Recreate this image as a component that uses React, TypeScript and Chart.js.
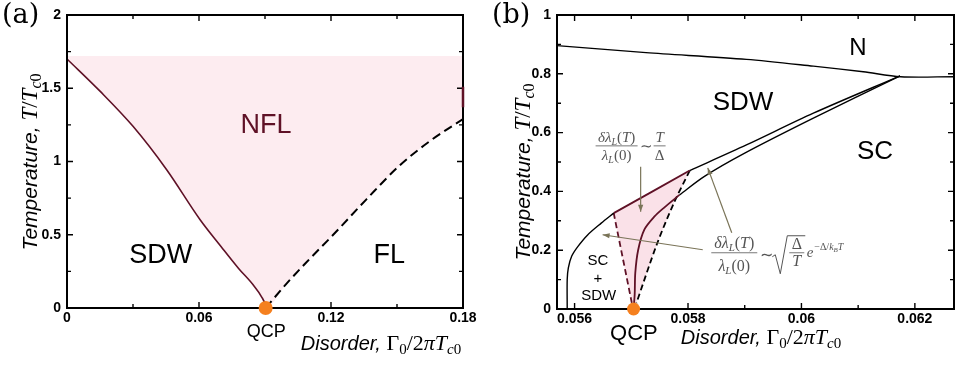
import React, { useEffect, useRef } from "react";
import { Chart, registerables } from "chart.js";
Chart.register(...registerables);

// ---------------- Panel (a) data ----------------
const aXTicks = [0, 0.06, 0.12, 0.18];
const aXTickLabels = ["0", "0.06", "0.12", "0.18"];
const aXMinorTicks = [0.03, 0.09, 0.15];
const aYTicks = [0, 0.5, 1, 1.5, 2];
const aYTickLabels = ["0", "0.5", "1", "1.5", "2"];
const aYMinorTicks = [0.25, 0.75, 1.25, 1.75];

const aSdwBoundaryX = [0, 0.015, 0.03, 0.0453, 0.0605, 0.07, 0.078, 0.0845, 0.0885, 0.09, 0.0903];
const aSdwBoundaryY = [1.7, 1.48, 1.24, 0.944, 0.603, 0.42, 0.27, 0.16, 0.075, 0.025, 0];
const aCrossoverX = [0.0903, 0.1, 0.11, 0.121, 0.136, 0.151, 0.165, 0.18];
const aCrossoverY = [0, 0.17, 0.33, 0.5, 0.74, 0.97, 1.14, 1.29];
const aNflTop = 1.72;
const aEdgeMarkX = [0.18, 0.18];
const aEdgeMarkY = [1.37, 1.51];
const aQcpX = [0.0903];
const aQcpY = [0];

// ---------------- Panel (b) data ----------------
const bXTicks = [0.056, 0.058, 0.06, 0.062];
const bXTickLabels = ["0.056", "0.058", "0.06", "0.062"];
const bXMinorTicks = [0.057, 0.059, 0.061];
const bYTicks = [0, 0.2, 0.4, 0.6, 0.8, 1];
const bYTickLabels = ["0", "0.2", "0.4", "0.6", "0.8", "1"];
const bYMinorTicks = [0.1, 0.3, 0.5, 0.7, 0.9];
const bXRange = [0.05569, 0.06269];

const bNormalX = [0.05569, 0.05726, 0.05903, 0.06021, 0.06109, 0.06175, 0.06269];
const bNormalY = [0.896, 0.872, 0.849, 0.826, 0.807, 0.79, 0.79];
const bScOuterX = [0.05587, 0.05587, 0.05589, 0.05595, 0.05606, 0.05623, 0.05647, 0.05669];
const bScOuterY = [0, 0.1, 0.14, 0.18, 0.213, 0.252, 0.292, 0.326];
const bScMaroonX = [0.05669, 0.05803];
const bScMaroonY = [0.326, 0.471];
const bScUpperX = [0.05803, 0.05903, 0.06021, 0.06174];
const bScUpperY = [0.471, 0.558, 0.666, 0.793];
const bSdwInnerX = [0.05704, 0.05706, 0.05707, 0.05712, 0.05723, 0.05741, 0.05758, 0.05785];
const bSdwInnerY = [0, 0.05, 0.122, 0.2, 0.27, 0.315, 0.345, 0.388];
const bSdwLowerX = [0.05785, 0.05829, 0.059, 0.06021, 0.06174];
const bSdwLowerY = [0.388, 0.451, 0.53, 0.649, 0.793];
const bLeftDashX = [0.05669, 0.05701];
const bLeftDashY = [0.326, 0.02];
const bRightDashX = [0.05803, 0.05775, 0.05745, 0.05709];
const bRightDashY = [0.471, 0.36, 0.22, 0.02];
const bQcpX = [0.05704];
const bQcpY = [0];

// ---------------- styles ----------------
const SANS = '"Liberation Sans", Arial, Helvetica, sans-serif';
const SERIF = '"Liberation Serif", "Times New Roman", serif';
const PANEL_SERIF = '"DejaVu Serif", "Liberation Serif", serif';
const MAROON = "#5f1126";
const ORANGE = "#f5801f";
const PINK_A = "rgb(253,236,240)";
const PINK_B = "rgb(250,225,232)";
const OLIVE = "rgb(122,116,88)";
const FORMULA = "#555555";

const pts = (xs: number[], ys: number[]) => xs.map((x, i) => ({ x, y: ys[i] }));

type Seg = { t: string; f: string; dy?: number };
function segsWidth(ctx: CanvasRenderingContext2D, segs: Seg[]) {
  let w = 0;
  for (const s of segs) {
    ctx.font = s.f;
    w += ctx.measureText(s.t).width;
  }
  return w;
}
function drawSegs(ctx: CanvasRenderingContext2D, segs: Seg[], x: number, y: number, align: "left" | "center" | "right" = "left") {
  const w = segsWidth(ctx, segs);
  let cx = align === "center" ? x - w / 2 : align === "right" ? x - w : x;
  ctx.textAlign = "left";
  ctx.textBaseline = "alphabetic";
  for (const s of segs) {
    ctx.font = s.f;
    ctx.fillText(s.t, cx, y + (s.dy || 0));
    cx += ctx.measureText(s.t).width;
  }
  return w;
}
function arrow(ctx: CanvasRenderingContext2D, x1: number, y1: number, x2: number, y2: number) {
  ctx.beginPath();
  ctx.moveTo(x1, y1);
  ctx.lineTo(x2, y2);
  ctx.stroke();
  const a = Math.atan2(y2 - y1, x2 - x1);
  const L = 7, W = 2.6;
  ctx.beginPath();
  ctx.moveTo(x2, y2);
  ctx.lineTo(x2 - L * Math.cos(a) + W * Math.sin(a), y2 - L * Math.sin(a) - W * Math.cos(a));
  ctx.lineTo(x2 - L * Math.cos(a) - W * Math.sin(a), y2 - L * Math.sin(a) + W * Math.cos(a));
  ctx.closePath();
  ctx.fill();
}

function framePlugin(xMajor: number[], xMinor: number[], yMajor: number[], yMinor: number[]) {
  return {
    id: "frameTicks",
    beforeDatasetDraw(chart: any, args: any) {
      if (chart.data.datasets[args.index].label !== "QCP") return;
      const { ctx, chartArea: a, scales } = chart;
      const x = scales.x, y = scales.y;
      ctx.save();
      ctx.strokeStyle = "#000";
      ctx.lineWidth = 1.4;
      ctx.beginPath();
      const tx = (vals: number[], len: number) => {
        for (const v of vals) {
          const p = x.getPixelForValue(v);
          ctx.moveTo(p, a.bottom);
          ctx.lineTo(p, a.bottom - len);
          ctx.moveTo(p, a.top);
          ctx.lineTo(p, a.top + len);
        }
      };
      const ty = (vals: number[], len: number) => {
        for (const v of vals) {
          const p = y.getPixelForValue(v);
          ctx.moveTo(a.left, p);
          ctx.lineTo(a.left + len, p);
          ctx.moveTo(a.right, p);
          ctx.lineTo(a.right - len, p);
        }
      };
      tx(xMajor, 6);
      tx(xMinor, 4);
      ty(yMajor, 6);
      ty(yMinor, 4);
      ctx.stroke();
      ctx.lineWidth = 2;
      ctx.strokeRect(a.left, a.top, a.right - a.left, a.bottom - a.top);
      ctx.restore();
    },
  };
}

function axisTitles(ctx: CanvasRenderingContext2D, yx: number, yy: number, xx: number, xy: number) {
  ctx.fillStyle = "#000";
  ctx.save();
  ctx.translate(yx, yy);
  ctx.rotate(-Math.PI / 2);
  drawSegs(ctx, [
    { t: "Temperature, ", f: `italic 21px ${SANS}` },
    { t: "T", f: `italic 23px ${SERIF}` },
    { t: "/", f: `23px ${SERIF}` },
    { t: "T", f: `italic 23px ${SERIF}` },
    { t: "c", f: `italic 16px ${SERIF}`, dy: 4 },
    { t: "0", f: `16px ${SERIF}`, dy: 4 },
  ], 0, 0, "center");
  ctx.restore();
  drawSegs(ctx, [
    { t: "Disorder, ", f: `italic 20px ${SANS}` },
    { t: "Γ", f: `22px ${SERIF}` },
    { t: "0", f: `15px ${SERIF}`, dy: 4 },
    { t: "/2", f: `22px ${SERIF}` },
    { t: "π", f: `italic 22px ${SERIF}` },
    { t: "T", f: `italic 22px ${SERIF}` },
    { t: "c", f: `italic 15px ${SERIF}`, dy: 4 },
    { t: "0", f: `15px ${SERIF}`, dy: 4 },
  ], xx, xy, "center");
}

const annotA = {
  id: "annotA",
  afterDraw(chart: any) {
    const { ctx, scales } = chart;
    const X = (v: number) => scales.x.getPixelForValue(v);
    const Y = (v: number) => scales.y.getPixelForValue(v);
    ctx.save();
    ctx.textAlign = "center";
    ctx.textBaseline = "alphabetic";
    ctx.fillStyle = MAROON;
    ctx.font = `27px ${SANS}`;
    ctx.fillText("NFL", X(0.0905), Y(1.192));
    ctx.fillStyle = "#000";
    ctx.fillText("SDW", X(0.0426), Y(0.305));
    ctx.fillText("FL", X(0.1465), Y(0.305));
    ctx.font = `18px ${SANS}`;
    ctx.fillText("QCP", X(0.0906), Y(-0.196));
    ctx.font = `27px ${PANEL_SERIF}`;
    ctx.textAlign = "left";
    ctx.fillText("(a)", 2, 23);
    axisTitles(ctx, 37, 162, 381, 350);
    ctx.restore();
  },
};

const annotB = {
  id: "annotB",
  afterDraw(chart: any) {
    const { ctx, scales } = chart;
    const X = (v: number) => scales.x.getPixelForValue(v);
    const Y = (v: number) => scales.y.getPixelForValue(v);
    ctx.save();
    ctx.textAlign = "center";
    ctx.textBaseline = "alphabetic";
    ctx.fillStyle = "#000";
    ctx.font = `24px ${SANS}`;
    ctx.fillText("N", X(0.060996), Y(0.864));
    ctx.font = `26px ${SANS}`;
    ctx.fillText("SDW", X(0.058971), Y(0.677));
    ctx.fillText("SC", X(0.061296), Y(0.51));
    ctx.font = `15px ${SANS}`;
    ctx.fillText("SC", X(0.056411), Y(0.1505));
    ctx.fillText("+", X(0.056411), Y(0.088));
    ctx.fillText("SDW", X(0.056424), Y(0.0316));
    ctx.font = `22px ${SANS}`;
    ctx.fillText("QCP", X(0.057047), Y(-0.104));

    // arrows
    ctx.strokeStyle = OLIVE;
    ctx.fillStyle = OLIVE;
    ctx.lineWidth = 1.2;
    arrow(ctx, X(0.057165), Y(0.4835), X(0.057165), Y(0.3306));
    arrow(ctx, X(0.05826), Y(0.2015), X(0.056494), Y(0.2525));
    arrow(ctx, X(0.058771), Y(0.2593), X(0.058348), Y(0.4801));

    // formula 1
    ctx.fillStyle = FORMULA;
    ctx.strokeStyle = FORMULA;
    ctx.lineWidth = 0.8;
    let ax = X(0.056741), ay = Y(0.5549);
    drawSegs(ctx, [
      { t: "δλ", f: `italic 15px ${SERIF}` },
      { t: "L", f: `italic 10px ${SERIF}`, dy: 3 },
      { t: "(", f: `15px ${SERIF}` },
      { t: "T", f: `italic 15px ${SERIF}` },
      { t: ")", f: `15px ${SERIF}` },
    ], ax, ay - 4, "center");
    drawSegs(ctx, [
      { t: "λ", f: `italic 15px ${SERIF}` },
      { t: "L", f: `italic 10px ${SERIF}`, dy: 3 },
      { t: "(0)", f: `15px ${SERIF}` },
    ], ax, ay + 14, "center");
    ctx.beginPath();
    ctx.moveTo(ax - 21, ay);
    ctx.lineTo(ax + 21, ay);
    ctx.moveTo(ax + 37, ay);
    ctx.lineTo(ax + 49, ay);
    ctx.stroke();
    drawSegs(ctx, [{ t: "∼", f: `15px ${SERIF}` }], ax + 30, ay + 5, "center");
    drawSegs(ctx, [{ t: "T", f: `italic 15px ${SERIF}` }], ax + 43, ay - 4, "center");
    drawSegs(ctx, [{ t: "Δ", f: `15px ${SERIF}` }], ax + 43, ay + 14, "center");

    // formula 2
    ax = X(0.058816);
    ay = Y(0.1913);
    drawSegs(ctx, [
      { t: "δλ", f: `italic 16px ${SERIF}` },
      { t: "L", f: `italic 11px ${SERIF}`, dy: 3 },
      { t: "(", f: `16px ${SERIF}` },
      { t: "T", f: `italic 16px ${SERIF}` },
      { t: ")", f: `16px ${SERIF}` },
    ], ax, ay - 5, "center");
    drawSegs(ctx, [
      { t: "λ", f: `italic 16px ${SERIF}` },
      { t: "L", f: `italic 11px ${SERIF}`, dy: 3 },
      { t: "(0)", f: `16px ${SERIF}` },
    ], ax, ay + 18, "center");
    ctx.beginPath();
    ctx.moveTo(ax - 23, ay);
    ctx.lineTo(ax + 23, ay);
    ctx.moveTo(ax + 55, ay);
    ctx.lineTo(ax + 70, ay);
    ctx.stroke();
    drawSegs(ctx, [{ t: "∼", f: `16px ${SERIF}` }], ax + 32, ay + 7, "center");
    ctx.lineWidth = 1;
    ctx.beginPath();
    ctx.moveTo(ax + 38, ay + 4);
    ctx.lineTo(ax + 41, ay + 2);
    ctx.lineTo(ax + 46, ay + 21);
    ctx.lineTo(ax + 53, ay - 17);
    ctx.lineTo(ax + 71, ay - 17);
    ctx.stroke();
    drawSegs(ctx, [{ t: "Δ", f: `16px ${SERIF}` }], ax + 62.5, ay - 4, "center");
    drawSegs(ctx, [{ t: "T", f: `italic 16px ${SERIF}` }], ax + 62.5, ay + 13, "center");
    drawSegs(ctx, [{ t: "e", f: `italic 15px ${SERIF}` }], ax + 72.5, ay + 4, "left");
    drawSegs(ctx, [
      { t: "−Δ/", f: `10px ${SERIF}` },
      { t: "k", f: `italic 10px ${SERIF}` },
      { t: "B", f: `italic 7px ${SERIF}`, dy: 2 },
      { t: "T", f: `italic 10px ${SERIF}` },
    ], ax + 80, ay - 3, "left");

    ctx.fillStyle = "#000";
    ctx.font = `27px ${PANEL_SERIF}`;
    ctx.textAlign = "left";
    ctx.fillText("(b)", 12, 23);
    axisTitles(ctx, 50, 172, 281, 344);
    ctx.restore();
  },
};

function lineDs(label: string, xs: number[], ys: number[], color: string, width: number, extra: any = {}) {
  return {
    label,
    data: pts(xs, ys),
    showLine: true,
    borderColor: color,
    borderWidth: width,
    pointRadius: 0,
    fill: false,
    tension: 0.3,
    order: 5,
    ...extra,
  };
}

function scaleCfg(min: number, max: number, ticks: number[], labels: string[], axis: "x" | "y", size: number) {
  return {
    type: "linear",
    min,
    max,
    afterBuildTicks: (s: any) => {
      s.ticks = ticks.map((v) => ({ value: v }));
    },
    afterFit: (s: any) => {
      if (axis === "x") s.height = size;
      else s.width = size;
    },
    grid: { display: false, drawTicks: false },
    border: { display: false },
    ticks: {
      autoSkip: false,
      maxRotation: 0,
      padding: axis === "x" ? 2 : 6,
      color: "#000",
      font: { family: SANS, size: 14, weight: "bold" },
      callback: (_v: any, i: number) => labels[i],
    },
  };
}

const baseOptions = {
  responsive: false,
  maintainAspectRatio: false,
  animation: false,
  events: [],
  plugins: { legend: { display: false }, tooltip: { enabled: false } },
};

export default function App() {
  const refA = useRef<HTMLCanvasElement>(null);
  const refB = useRef<HTMLCanvasElement>(null);
  useEffect(() => {
    const mono = { tension: 0, cubicInterpolationMode: "monotone" };
    const nflLower = [...pts(aSdwBoundaryX, aSdwBoundaryY), ...pts(aCrossoverX, aCrossoverY).slice(1)];
    const chartA = new Chart(refA.current as HTMLCanvasElement, {
      type: "scatter",
      data: {
        datasets: [
          {
            label: "nflFill",
            data: nflLower,
            showLine: true,
            borderColor: "rgba(0,0,0,0)",
            borderWidth: 0,
            pointRadius: 0,
            fill: { value: aNflTop },
            backgroundColor: PINK_A,
            order: 10,
            ...mono,
          },
          lineDs("sdwBoundary", aSdwBoundaryX, aSdwBoundaryY, MAROON, 1.6, mono),
          lineDs("crossover", aCrossoverX, aCrossoverY, "#000", 2, { borderDash: [9, 5], ...mono }),
          lineDs("edge", aEdgeMarkX, aEdgeMarkY, MAROON, 2.5, { order: 0, clip: false }),
          {
            label: "QCP",
            data: pts(aQcpX, aQcpY),
            showLine: false,
            pointRadius: 7,
            pointBackgroundColor: ORANGE,
            backgroundColor: ORANGE,
            pointBorderWidth: 0,
            clip: false,
            order: 1,
          },
        ],
      },
      options: {
        ...baseOptions,
        layout: { padding: { top: 15, right: 17, left: 0, bottom: 0 } },
        scales: {
          x: scaleCfg(0, 0.18, aXTicks, aXTickLabels, "x", 62),
          y: scaleCfg(0, 2, aYTicks, aYTickLabels, "y", 67),
        },
      } as any,
      plugins: [framePlugin(aXTicks, aXMinorTicks, aYTicks, aYMinorTicks), annotA],
    } as any);

    const triangle = [
      ...pts(bScMaroonX, bScMaroonY),
      ...pts(bRightDashX, bRightDashY).slice(1),
      ...pts(bLeftDashX, bLeftDashY).reverse(),
    ];
    const chartB = new Chart(refB.current as HTMLCanvasElement, {
      type: "scatter",
      data: {
        datasets: [
          {
            label: "pink",
            data: triangle,
            showLine: true,
            fill: "shape",
            backgroundColor: PINK_B,
            borderColor: "rgba(0,0,0,0)",
            borderWidth: 0,
            pointRadius: 0,
            tension: 0,
            order: 10,
          },
          lineDs("normal", bNormalX, bNormalY, "#000", 1.4),
          lineDs("scOuter", bScOuterX, bScOuterY, "#000", 1.4),
          lineDs("scMaroon", bScMaroonX, bScMaroonY, MAROON, 1.8),
          lineDs("scUpper", bScUpperX, bScUpperY, "#000", 1.4),
          lineDs("sdwInner", bSdwInnerX, bSdwInnerY, MAROON, 1.8),
          lineDs("sdwLower", bSdwLowerX, bSdwLowerY, "#000", 1.4),
          lineDs("leftDash", bLeftDashX, bLeftDashY, MAROON, 1.8, { borderDash: [6, 3.5] }),
          lineDs("rightDash", bRightDashX, bRightDashY, "#000", 1.8, { borderDash: [6, 3.5] }),
          {
            label: "QCP",
            data: pts(bQcpX, bQcpY),
            showLine: false,
            pointRadius: 6.5,
            pointBackgroundColor: ORANGE,
            backgroundColor: ORANGE,
            pointBorderWidth: 0,
            clip: false,
            order: 1,
          },
        ],
      },
      options: {
        ...baseOptions,
        layout: { padding: { top: 15, right: 15, left: 0, bottom: 0 } },
        scales: {
          x: scaleCfg(bXRange[0], bXRange[1], bXTicks, bXTickLabels, "x", 61),
          y: scaleCfg(0, 1, bYTicks, bYTickLabels, "y", 77),
        },
      } as any,
      plugins: [framePlugin(bXTicks, bXMinorTicks, bYTicks, bYMinorTicks), annotB],
    } as any);

    return () => {
      chartA.destroy();
      chartB.destroy();
    };
  }, []);

  return (
    <div style={{ position: "absolute", left: 0, top: 0, width: 969, height: 370, background: "#fff" }}>
      <canvas ref={refA} width={480} height={370} style={{ position: "absolute", left: 0, top: 0, width: 480, height: 370 }} />
      <canvas ref={refB} width={489} height={370} style={{ position: "absolute", left: 480, top: 0, width: 489, height: 370 }} />
    </div>
  );
}
